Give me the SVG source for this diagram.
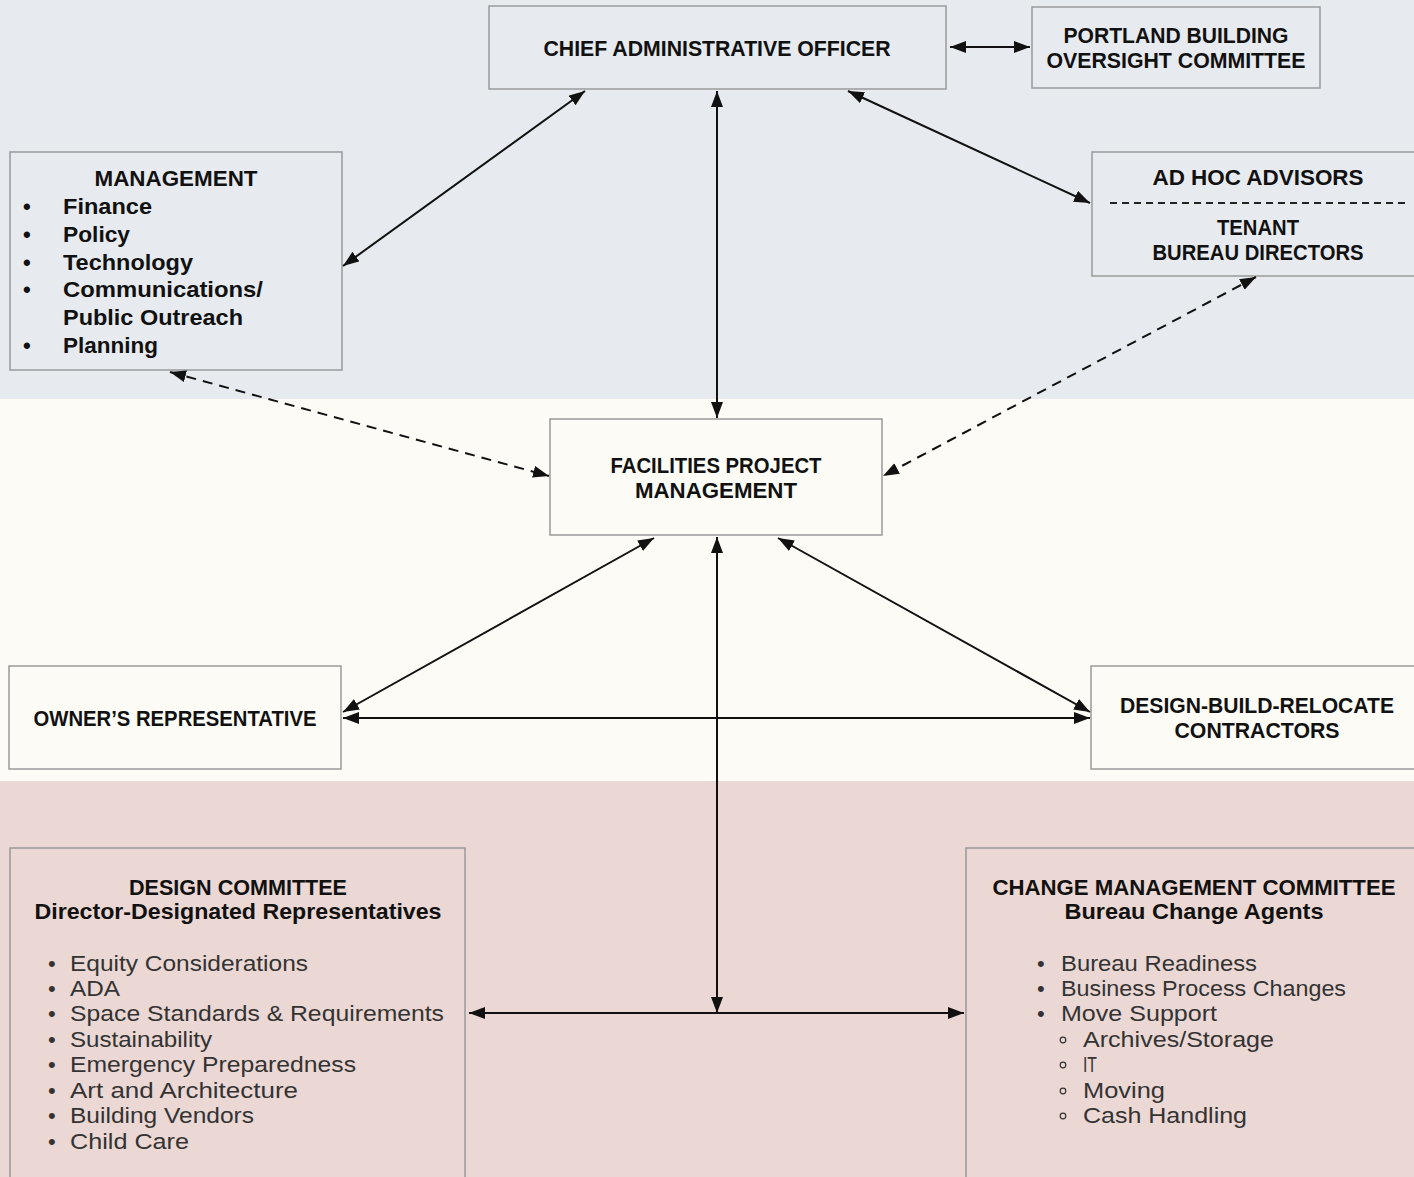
<svg xmlns="http://www.w3.org/2000/svg" width="1414" height="1177" viewBox="0 0 1414 1177">
<style>
.box{stroke:#9a9a9a;stroke-width:1.5}
.h{font-family:"Liberation Sans",Arial,sans-serif;font-weight:bold;font-size:22px;fill:#111}
.hc{text-anchor:middle}
.li{font-family:"Liberation Sans",Arial,sans-serif;font-size:22px;fill:#333}
.lb{font-family:"Liberation Sans",Arial,sans-serif;font-weight:bold;font-size:22px;fill:#111}
.c{fill:none;stroke:#111;stroke-width:2}
.d{stroke-dasharray:10,7}
.sb{fill:none;stroke:#333;stroke-width:1.2}
</style>
<defs>
<marker id="ah" markerUnits="userSpaceOnUse" markerWidth="17" markerHeight="13" refX="16" refY="6" orient="auto-start-reverse" viewBox="0 0 17 13">
<path d="M0,0 L16,6 L0,12 z" fill="#111"/>
</marker>
</defs>
<rect x="0" y="0" width="1414" height="399" fill="#e7eaee"/>
<rect x="0" y="399" width="1414" height="382" fill="#fcfbf6"/>
<rect x="0" y="781" width="1414" height="396" fill="#ebd7d3"/>

<g id="cao">
<rect class="box" x="489" y="6" width="457" height="83" fill="#e7eaee"/>
<text class="h hc" x="717" y="56" textLength="347" lengthAdjust="spacingAndGlyphs">CHIEF ADMINISTRATIVE OFFICER</text>
</g>
<g id="portland">
<rect class="box" x="1032" y="7" width="288" height="81" fill="#e7eaee"/>
<text class="h hc" x="1176" y="43" textLength="225" lengthAdjust="spacingAndGlyphs">PORTLAND BUILDING</text>
<text class="h hc" x="1176" y="68" textLength="259" lengthAdjust="spacingAndGlyphs">OVERSIGHT COMMITTEE</text>
</g>
<g id="management">
<rect class="box" x="10" y="152" width="332" height="218" fill="#e7eaee"/>
<text class="h hc" x="176" y="186" textLength="163" lengthAdjust="spacingAndGlyphs">MANAGEMENT</text>
<g class="lb">
<text x="23" y="214">•</text><text x="63" y="214" textLength="89" lengthAdjust="spacingAndGlyphs">Finance</text>
<text x="23" y="242">•</text><text x="63" y="242" textLength="67" lengthAdjust="spacingAndGlyphs">Policy</text>
<text x="23" y="270">•</text><text x="63" y="270" textLength="130" lengthAdjust="spacingAndGlyphs">Technology</text>
<text x="23" y="297">•</text><text x="63" y="297" textLength="200" lengthAdjust="spacingAndGlyphs">Communications/</text>
<text x="63" y="325" textLength="180" lengthAdjust="spacingAndGlyphs">Public Outreach</text>
<text x="23" y="353">•</text><text x="63" y="353" textLength="95" lengthAdjust="spacingAndGlyphs">Planning</text>
</g>
</g>
<g id="adhoc">
<rect class="box" x="1092" y="152" width="330" height="124" fill="#e7eaee"/>
<text class="h hc" x="1258" y="185" textLength="211" lengthAdjust="spacingAndGlyphs">AD HOC ADVISORS</text>
<line x1="1110" y1="203" x2="1408" y2="203" stroke="#222" stroke-width="2" stroke-dasharray="7,5"/>
<text class="h hc" x="1258" y="235" textLength="82" lengthAdjust="spacingAndGlyphs">TENANT</text>
<text class="h hc" x="1258" y="260" textLength="211" lengthAdjust="spacingAndGlyphs">BUREAU DIRECTORS</text>
</g>
<g id="facilities">
<rect class="box" x="550" y="419" width="332" height="116" fill="#fcfbf6"/>
<text class="h hc" x="716" y="473" textLength="211" lengthAdjust="spacingAndGlyphs">FACILITIES PROJECT</text>
<text class="h hc" x="716" y="498" textLength="162" lengthAdjust="spacingAndGlyphs">MANAGEMENT</text>
</g>
<g id="owners">
<rect class="box" x="9" y="666" width="332" height="103" fill="#fcfbf6"/>
<text class="h hc" x="175" y="726" textLength="283" lengthAdjust="spacingAndGlyphs">OWNER’S REPRESENTATIVE</text>
</g>
<g id="dbr">
<rect class="box" x="1091" y="666" width="331" height="103" fill="#fcfbf6"/>
<text class="h hc" x="1257" y="713" textLength="274" lengthAdjust="spacingAndGlyphs">DESIGN-BUILD-RELOCATE</text>
<text class="h hc" x="1257" y="738" textLength="165" lengthAdjust="spacingAndGlyphs">CONTRACTORS</text>
</g>
<g id="design">
<rect class="box" x="10" y="848" width="455" height="340" fill="#ebd7d3"/>
<text class="h hc" x="238" y="895" textLength="218" lengthAdjust="spacingAndGlyphs">DESIGN COMMITTEE</text>
<text class="h hc" x="238" y="919" textLength="407" lengthAdjust="spacingAndGlyphs">Director-Designated Representatives</text>
<g class="li">
<text x="48" y="971">•</text><text x="70" y="971" textLength="238" lengthAdjust="spacingAndGlyphs">Equity Considerations</text>
<text x="48" y="996">•</text><text x="70" y="996" textLength="50" lengthAdjust="spacingAndGlyphs">ADA</text>
<text x="48" y="1021">•</text><text x="70" y="1021" textLength="374" lengthAdjust="spacingAndGlyphs">Space Standards &amp; Requirements</text>
<text x="48" y="1047">•</text><text x="70" y="1047" textLength="142" lengthAdjust="spacingAndGlyphs">Sustainability</text>
<text x="48" y="1072">•</text><text x="70" y="1072" textLength="286" lengthAdjust="spacingAndGlyphs">Emergency Preparedness</text>
<text x="48" y="1098">•</text><text x="70" y="1098" textLength="228" lengthAdjust="spacingAndGlyphs">Art and Architecture</text>
<text x="48" y="1123">•</text><text x="70" y="1123" textLength="184" lengthAdjust="spacingAndGlyphs">Building Vendors</text>
<text x="48" y="1149">•</text><text x="70" y="1149" textLength="119" lengthAdjust="spacingAndGlyphs">Child Care</text>
</g>
</g>
<g id="change">
<rect class="box" x="966" y="848" width="456" height="340" fill="#ebd7d3"/>
<text class="h hc" x="1194" y="895" textLength="403" lengthAdjust="spacingAndGlyphs">CHANGE MANAGEMENT COMMITTEE</text>
<text class="h hc" x="1194" y="919" textLength="259" lengthAdjust="spacingAndGlyphs">Bureau Change Agents</text>
<g class="li">
<text x="1037" y="971">•</text><text x="1061" y="971" textLength="196" lengthAdjust="spacingAndGlyphs">Bureau Readiness</text>
<text x="1037" y="996">•</text><text x="1061" y="996" textLength="285" lengthAdjust="spacingAndGlyphs">Business Process Changes</text>
<text x="1037" y="1021">•</text><text x="1061" y="1021" textLength="156" lengthAdjust="spacingAndGlyphs">Move Support</text>
<text x="1083" y="1047" textLength="191" lengthAdjust="spacingAndGlyphs">Archives/Storage</text>
<text x="1083" y="1072" textLength="14" lengthAdjust="spacingAndGlyphs">IT</text>
<text x="1083" y="1098" textLength="82" lengthAdjust="spacingAndGlyphs">Moving</text>
<text x="1083" y="1123" textLength="164" lengthAdjust="spacingAndGlyphs">Cash Handling</text>
</g>
<circle class="sb" cx="1063" cy="1040" r="2.8"/>
<circle class="sb" cx="1063" cy="1065" r="2.8"/>
<circle class="sb" cx="1063" cy="1091" r="2.8"/>
<circle class="sb" cx="1063" cy="1116" r="2.8"/>
</g>

<g id="connectors">
<line class="c" x1="950" y1="47" x2="1030" y2="47" marker-start="url(#ah)" marker-end="url(#ah)"/>
<line class="c" x1="585" y1="91" x2="343" y2="266" marker-start="url(#ah)" marker-end="url(#ah)"/>
<line class="c" x1="717" y1="91" x2="717" y2="418" marker-start="url(#ah)" marker-end="url(#ah)"/>
<line class="c" x1="848" y1="91" x2="1090" y2="203" marker-start="url(#ah)" marker-end="url(#ah)"/>
<line class="c d" x1="170" y1="372" x2="549" y2="476" marker-start="url(#ah)" marker-end="url(#ah)"/>
<line class="c d" x1="1256" y1="277" x2="883" y2="476" marker-start="url(#ah)" marker-end="url(#ah)"/>
<line class="c" x1="654" y1="538" x2="343" y2="712" marker-start="url(#ah)" marker-end="url(#ah)"/>
<line class="c" x1="778" y1="538" x2="1090" y2="712" marker-start="url(#ah)" marker-end="url(#ah)"/>
<line class="c" x1="343" y1="718" x2="1090" y2="718" marker-start="url(#ah)" marker-end="url(#ah)"/>
<line class="c" x1="717" y1="537" x2="717" y2="1013" marker-start="url(#ah)" marker-end="url(#ah)"/>
<line class="c" x1="469" y1="1013" x2="964" y2="1013" marker-start="url(#ah)" marker-end="url(#ah)"/>
</g>
</svg>
